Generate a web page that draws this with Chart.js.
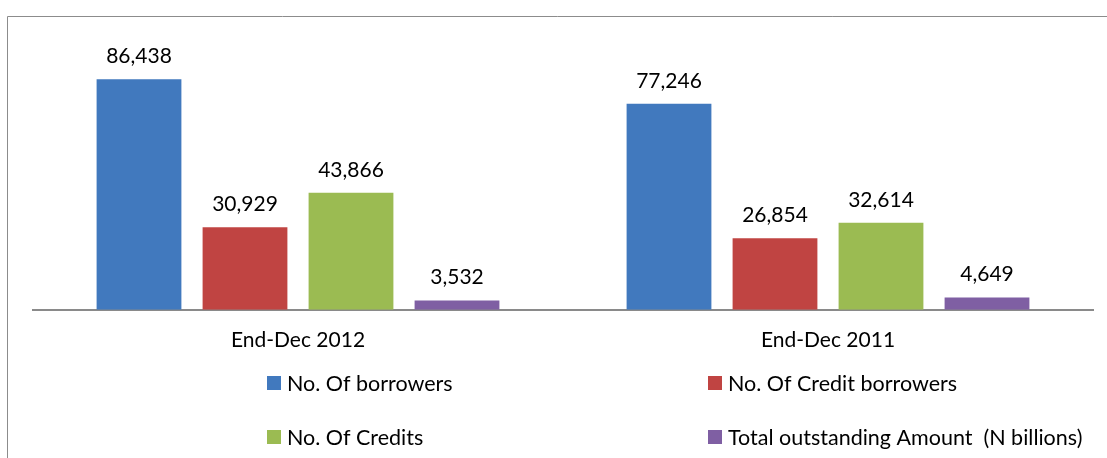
<!DOCTYPE html>
<html>
<head>
<meta charset="utf-8">
<title>Borrowers and credits</title>
<script src="https://cdn.jsdelivr.net/npm/chart.js@4.4.1/dist/chart.umd.min.js"></script>
<style>
  html, body { margin: 0; padding: 0; background: #fff; }
  #wrap { width: 1107px; height: 458px; }
</style>
</head>
<body>
<div id="wrap"><canvas id="creditChart" width="1107" height="458"></canvas></div>
<script>
// periods and series
var periods = ["End-Dec 2012", "End-Dec 2011"];
var borrowers = [86438, 77246];
var creditBorrowers = [30929, 26854];
var credits = [43866, 32614];
var outstanding = [3532, 4649];

var seriesNames = ["No. Of borrowers", "No. Of Credit borrowers", "No. Of Credits", "Total outstanding Amount  (N billions)"];
var seriesColors = ["#4179BE", "#C04442", "#9BBB52", "#7F5FA3"];
var seriesValues = [borrowers, creditBorrowers, credits, outstanding];

var FONT = "Lato, 'Open Sans', sans-serif";

// thin gray frame on the top and left
var framePlugin = {
    id: "frame",
    beforeDraw: function (chart) {
        var ctx = chart.ctx;
        ctx.save();
        ctx.strokeStyle = "#8c8c8c";
        ctx.lineWidth = 1;
        ctx.beginPath();
        ctx.moveTo(7.5, chart.height);
        ctx.lineTo(7.5, 16.5);
        ctx.lineTo(chart.width, 16.5);
        ctx.stroke();
        ctx.restore();
    }
};

// value above each bar
var valueLabels = {
    id: "valueLabels",
    afterDatasetsDraw: function (chart) {
        var ctx = chart.ctx;
        ctx.save();
        ctx.font = "21px " + FONT;
        ctx.fillStyle = "#000";
        ctx.textAlign = "center";
        ctx.textBaseline = "alphabetic";
        chart.data.datasets.forEach(function (ds, i) {
            chart.getDatasetMeta(i).data.forEach(function (bar, j) {
                ctx.fillText(ds.data[j].toLocaleString("en-US"), bar.x, bar.y - 16);
            });
        });
        ctx.restore();
    }
};

// legend laid out as two columns, two rows
var gridLegend = {
    id: "gridLegend",
    afterDraw: function (chart) {
        var ctx = chart.ctx;
        var cols = [267, 708];
        var rows = [383, 437];
        ctx.save();
        ctx.font = "21.5px " + FONT;
        ctx.textBaseline = "middle";
        ctx.textAlign = "left";
        chart.data.datasets.forEach(function (ds, i) {
            var x = cols[i % 2];
            var y = rows[Math.floor(i / 2)];
            ctx.fillStyle = ds.backgroundColor;
            ctx.fillRect(x, y - 7, 14, 14);
            ctx.fillStyle = "#000";
            ctx.fillText(ds.label, x + 20, y + 1);
        });
        ctx.restore();
    }
};

var datasets = seriesNames.map(function (name, i) {
    return {
        label: name,
        data: seriesValues[i],
        backgroundColor: seriesColors[i],
        borderWidth: 0,
        categoryPercentage: 0.8,
        barPercentage: 0.8
    };
});

new Chart(document.getElementById("creditChart"), {
    type: "bar",
    data: { labels: periods, datasets: datasets },
    plugins: [framePlugin, valueLabels, gridLegend],
    options: {
        responsive: false,
        animation: false,
        devicePixelRatio: 1,
        layout: { padding: { left: 33, right: 14, top: 43, bottom: 87 } },
        plugins: {
            legend: { display: false },
            tooltip: { enabled: false }
        },
        scales: {
            x: {
                grid: { display: false, drawTicks: false },
                border: { display: true, color: "#8a8a8a", width: 2 },
                ticks: { color: "#000", padding: 18, font: { family: FONT, size: 21 } }
            },
            y: {
                display: false,
                min: 0,
                max: 100000
            }
        }
    }
});
</script>
</body>
</html>
